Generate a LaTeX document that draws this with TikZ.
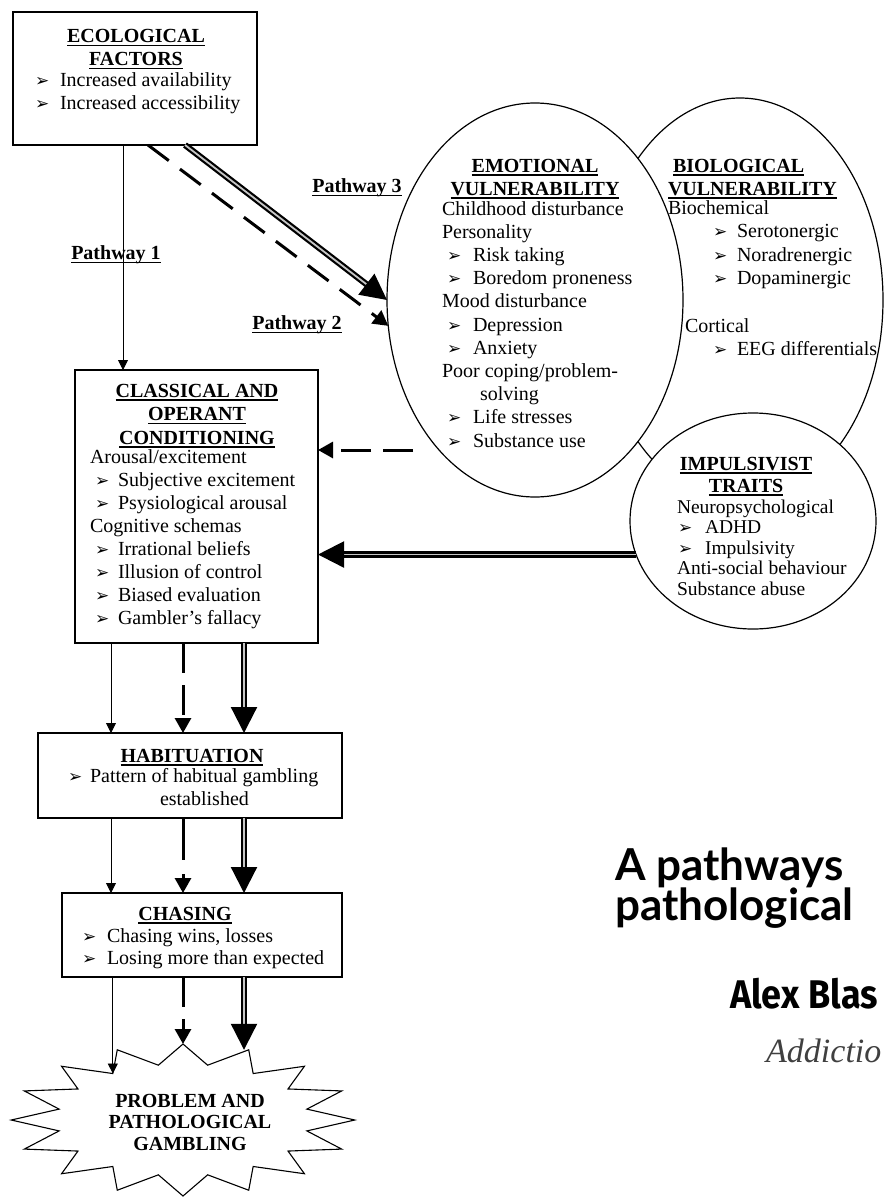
\documentclass[tikz,border=0pt]{standalone}
\usepackage{fontspec}
\setmainfont{Liberation Serif}
\newfontfamily\dv{DejaVu Sans}
\newfontfamily\gill{Lato}
\newfontfamily\cond[FakeStretch=0.9]{Fira Sans}
\usetikzlibrary{arrows.meta,shapes.geometric}
\newcommand\bul{{\dv\fontsize{17}{17}\selectfont ➢}}
\newcommand\hd[1]{\setbox0\hbox{\textbf{#1}}\rlap{\rule[-3.5pt]{\wd0}{1.3pt}}\box0}
\newcommand\blk[2][l]{\begin{tabular}[t]{@{}#1@{}}#2\end{tabular}}
\newcommand\bi[2]{\makebox[#1][l]{\bul}#2}
\tikzset{
  txt/.style={inner sep=0pt, outer sep=0pt, font=\fontsize{20}{23}\selectfont},
  box/.style={draw, line width=1.2pt, rectangle, inner sep=0pt, outer sep=0pt, fill=white},
  oval/.style={draw, line width=1.2pt, ellipse, inner sep=0pt, outer sep=0pt, fill=white},
  thinarr/.style={line width=0.9pt, -{Triangle[width=10pt,length=10pt]}},
  dasharr/.style={line width=3pt, dash pattern=on 30pt off 12pt, -{Triangle[width=16pt,length=15pt]}},
  thickarr/.style={line width=2.2pt, double=gray!45, double distance=1.8pt, -{Triangle[width=26pt,length=26pt]}},
  titlefont/.style={inner sep=0pt, anchor=base west, font=\gill\bfseries\fontsize{44}{44}\selectfont},
}
\begin{document}
\begin{tikzpicture}[x=1pt, y=-1pt]
\useasboundingbox[fill=white] (0,0) rectangle (884,1199);
% lanes
\coordinate (l0) at (123,0);
\coordinate (lp2) at (148,0);
\coordinate (lp3) at (185,0);
\coordinate (l1) at (111,0);
\coordinate (l2) at (183,0);
\coordinate (l3) at (244,0);
\coordinate (ds) at (413,450);
% shapes
\node[oval, minimum width=286pt, minimum height=404pt] (bio) at (740,300) {};
\node[oval, minimum width=296pt, minimum height=394pt] (emo) at (535,300) {};
\node[oval, minimum width=246pt, minimum height=216pt] (imp) at (753,521) {};
\node[box, minimum width=244pt, minimum height=133pt] (eco) at (135,78.5) {};
\node[box, minimum width=243pt, minimum height=273pt] (cls) at (196.5,506.5) {};
\node[box, minimum width=304pt, minimum height=85pt] (hab) at (190,775.5) {};
\node[box, minimum width=280pt, minimum height=84pt] (chs) at (202,935) {};
\begin{scope}[shift={(183,1120)}]
\node[star, star points=16, star point ratio=1.36, minimum size=152pt, draw, line width=1.1pt,
  inner sep=0pt, outer sep=0pt, xscale=2.26, transform shape] (burst) at (0,0) {};
\end{scope}
% texts
\node[txt, anchor=base] (ecoT) at (136,43) {\blk[c]{\hd{ECOLOGICAL}\\\hd{FACTORS}}};
\node[txt, anchor=base west] (ecoL) at (35,86) {\blk{\bi{25pt}{Increased availability}\\\bi{25pt}{Increased accessibility}}};
\node[txt] (p1) at (116,255) {\hd{Pathway 1}};
\node[txt] (p3) at (357,188) {\hd{Pathway 3}};
\node[txt] (p2) at (297,325) {\hd{Pathway 2}};
\node[txt, anchor=base] (emoT) at (535,172) {\blk[c]{\hd{EMOTIONAL}\\\hd{VULNERABILITY}}};
\node[txt, anchor=base west, font=\fontsize{20}{23.2}\selectfont] (emoL) at (442,215) {\blk{Childhood disturbance\\Personality\\
\hspace*{5pt}\bi{26pt}{Risk taking}\\\hspace*{5pt}\bi{26pt}{Boredom proneness}\\Mood disturbance\\
\hspace*{5pt}\bi{26pt}{Depression}\\\hspace*{5pt}\bi{26pt}{Anxiety}\\Poor coping/problem-\\\hspace*{38pt}solving\\
\hspace*{5pt}\bi{26pt}{Life stresses}\\\hspace*{5pt}\bi{26pt}{Substance use}}};
\node[txt, anchor=base west] (bioT) at (668,172) {\blk{\hspace*{5pt}\hd{BIOLOGICAL}\\\hd{VULNERABILITY}}};
\node[txt, anchor=base west, font=\fontsize{20}{23.6}\selectfont] (bioL) at (668,214) {\blk{Biochemical\\
\hspace*{45pt}\bi{24pt}{Serotonergic}\\\hspace*{45pt}\bi{24pt}{Noradrenergic}\\\hspace*{45pt}\bi{24pt}{Dopaminergic}\\ \\
\hspace*{17pt}Cortical\\\hspace*{45pt}\bi{24pt}{EEG differentials}}};
\node[txt, anchor=base, font=\fontsize{20}{22}\selectfont] (impT) at (746,470) {\blk[c]{\hd{IMPULSIVIST}\\\hd{TRAITS}}};
\node[txt, anchor=base west, font=\fontsize{19.5}{20.5}\selectfont] (impL) at (677,513) {\blk{Neuropsychological\\
\hspace*{1pt}\bi{27pt}{ADHD}\\\hspace*{1pt}\bi{27pt}{Impulsivity}\\Anti-social behaviour\\Substance abuse}};
\node[txt, anchor=base, font=\fontsize{20}{23.5}\selectfont] (clsT) at (197,397) {\blk[c]{\hd{CLASSICAL AND}\\\hd{OPERANT}\\\hd{CONDITIONING}}};
\node[txt, anchor=base west] (clsL) at (90,463) {\blk{Arousal/excitement\\
\hspace*{5pt}\bi{23pt}{Subjective excitement}\\\hspace*{5pt}\bi{23pt}{Psysiological arousal}\\Cognitive schemas\\
\hspace*{5pt}\bi{23pt}{Irrational beliefs}\\\hspace*{5pt}\bi{23pt}{Illusion of control}\\
\hspace*{5pt}\bi{23pt}{Biased evaluation}\\\hspace*{5pt}\bi{23pt}{Gambler’s fallacy}}};
\node[txt, anchor=base] (habT) at (192,762) {\hd{HABITUATION}};
\node[txt, anchor=base west] (habL) at (68,782) {\blk{\bi{22pt}{Pattern of habitual gambling}\\\hspace*{92pt}established}};
\node[txt, anchor=base] (chsT) at (185,920) {\hd{CHASING}};
\node[txt, anchor=base west, font=\fontsize{20}{22}\selectfont] (chsL) at (82,942) {\blk{\bi{25pt}{Chasing wins, losses}\\\bi{25pt}{Losing more than expected}}};
\node[txt, anchor=base, font=\bfseries\fontsize{20}{21.5}\selectfont] (burstT) at (190,1107) {\blk[c]{PROBLEM AND\\PATHOLOGICAL\\GAMBLING}};
% title fragments
\node[titlefont] (t1) at (615,880) {A pathways};
\node[titlefont] (t2) at (615,920) {pathological};
\node[inner sep=0pt, anchor=base west, font=\cond\bfseries\fontsize{40}{40}\selectfont] (t3) at (730,1008) {Alex Blas};
\node[inner sep=0pt, anchor=base west, font=\itshape\fontsize{34}{34}\selectfont, text=black!75] (t4) at (766,1062) {Addictio};
% connectors
\draw[thinarr] (eco.south -| l0) -- (cls.north -| l0);
\draw[dasharr, dash pattern=on 26pt off 14pt] (eco.south -| lp2) -- (emo.190);
\draw[thickarr] (eco.south -| lp3) -- (emo.west);
\draw[dasharr] (ds) -- (cls.east |- ds);
\draw[thickarr] (imp.196) -- (cls.east |- imp.196);
\draw[thinarr] (cls.south -| l1) -- (hab.north -| l1);
\draw[dasharr] (cls.south -| l2) -- (hab.north -| l2);
\draw[thickarr] (cls.south -| l3) -- (hab.north -| l3);
\draw[thinarr] (hab.south -| l1) -- (chs.north -| l1);
\draw[dasharr, dash pattern=on 42pt off 14pt] (hab.south -| l2) -- (chs.north -| l2);
\draw[thickarr] (hab.south -| l3) -- (chs.north -| l3);
\draw[thinarr] (chs.south -| burst.inner point 2) -- (burst.inner point 2);
\draw[dasharr] (chs.south -| burst.outer point 1) -- (burst.outer point 1);
\draw[thickarr] (chs.south -| l3) -- (l3 |- burst.outer point 16);
\end{tikzpicture}
\end{document}
